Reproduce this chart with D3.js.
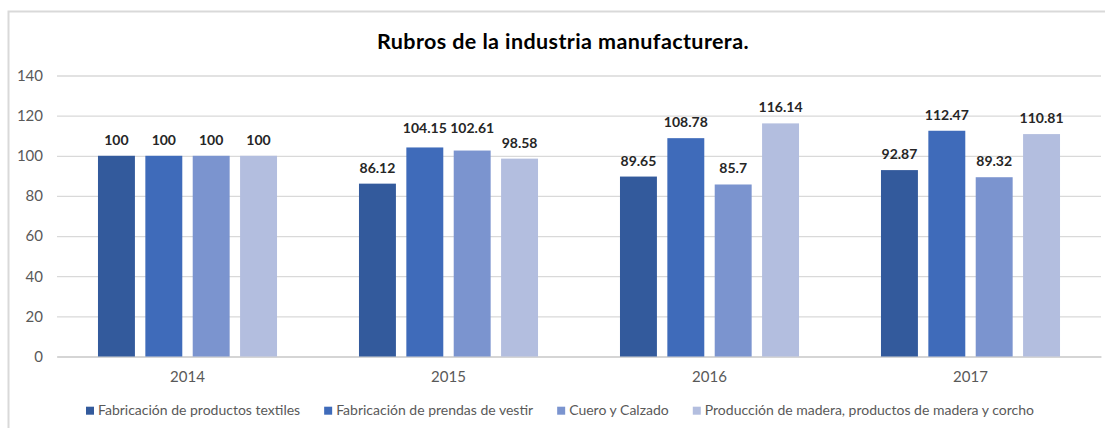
<!DOCTYPE html>
<html>
<head>
<meta charset="utf-8">
<script src="https://cdn.jsdelivr.net/npm/d3@7"></script>
<style>
  html, body { margin: 0; padding: 0; background: #ffffff; }
  svg { display: block; }
  text { font-family: Lato, "Open Sans", "Liberation Sans", sans-serif; }
</style>
</head>
<body>
<svg id="chart" width="1105" height="428"></svg>
<script>
// Índices por rubro (2014 = 100)
const years = ["2014", "2015", "2016", "2017"];
const seriesNames = [
  "Fabricación de productos textiles",
  "Fabricación de prendas de vestir",
  "Cuero y Calzado",
  "Producción de madera, productos de madera y corcho"
];
const textiles = [100, 86.12, 89.65, 92.87];
const prendas = [100, 104.15, 108.78, 112.47];
const cuero = [100, 102.61, 85.7, 89.32];
const madera = [100, 98.58, 116.14, 110.81];
const yTicks = [0, 20, 40, 60, 80, 100, 120, 140];
const titleText = "Rubros de la industria manufacturera.";

const seriesValues = [textiles, prendas, cuero, madera];
const colors = ["#335A9C", "#3F6BBA", "#7B94CF", "#B3BEDF"];

const svg = d3.select("#chart");

// chart frame
svg.append("rect")
  .attr("x", 8.5).attr("y", 11.5)
  .attr("width", 1110).attr("height", 430)
  .attr("fill", "#ffffff")
  .attr("stroke", "#d9d9d9").attr("stroke-width", 2);

const plot = { left: 57, right: 1101, top: 75.5, bottom: 356.5 };

const x0 = d3.scaleBand().domain(years).range([plot.left, plot.right]).padding(0);
const bw = x0.bandwidth();
const x1 = d3.scaleBand().domain(d3.range(seriesNames.length))
  .range([bw * 0.157, bw * 0.843]).paddingInner(0.22).paddingOuter(0);
const y = d3.scaleLinear().domain([0, 140]).range([plot.bottom, plot.top]);

// gridlines + y labels
const yAxis = d3.axisLeft(y).tickValues(yTicks)
  .tickSize(-(plot.right - plot.left)).tickPadding(14);
const gy = svg.append("g").attr("transform", `translate(${plot.left},0)`).call(yAxis);
gy.select(".domain").remove();
gy.selectAll(".tick line").attr("stroke", "#d9d9d9").attr("stroke-width", 1.3);
gy.selectAll(".tick text")
  .attr("fill", "#595959").attr("font-size", 15);

// x labels
const xAxis = d3.axisBottom(x0).tickSize(0).tickPadding(15);
const gx = svg.append("g").attr("transform", `translate(0,${plot.bottom})`).call(xAxis);
gx.select(".domain").attr("stroke", "#d0d0d0").attr("stroke-width", 1.5);
gx.selectAll(".tick text").attr("fill", "#595959").attr("font-size", 15);

// title
svg.append("text")
  .attr("x", 563).attr("y", 49)
  .attr("text-anchor", "middle")
  .attr("font-size", 21.5).attr("font-weight", "bold").attr("fill", "#000000")
  .attr("letter-spacing", 0.4)
  .text(titleText);

// bars
const flat = [];
years.forEach((yr, i) => {
  seriesValues.forEach((vals, s) => {
    flat.push({ year: yr, s: s, v: vals[i] });
  });
});

svg.append("g").selectAll("rect")
  .data(flat).join("rect")
  .attr("x", d => x0(d.year) + x1(d.s))
  .attr("y", d => y(d.v))
  .attr("width", x1.bandwidth())
  .attr("height", d => y(0) - y(d.v))
  .attr("fill", d => colors[d.s]);

// value labels
const labels = svg.append("g").selectAll("text")
  .data(flat).join("text")
  .attr("x", d => x0(d.year) + x1(d.s) + x1.bandwidth() / 2)
  .attr("text-anchor", "middle")
  .attr("font-size", 14).attr("font-weight", "bold").attr("fill", "#262626")
  .text(d => String(d.v));

// place labels above bars, lifting neighbours that would collide
flat.forEach(d => { d.ly = y(d.v) - 11; });
labels.each(function (d) { d.w = this.getComputedTextLength(); d.cx = x0(d.year) + x1(d.s) + x1.bandwidth() / 2; });
years.forEach(yr => {
  const g = flat.filter(d => d.year === yr);
  for (let i = 0; i < g.length - 1; i++) {
    const a = g[i], b = g[i + 1];
    const hGap = (b.cx - b.w / 2) - (a.cx + a.w / 2);
    if (hGap < 6 && Math.abs(a.ly - b.ly) < 12) {
      const top = Math.min(a.ly, b.ly) - 3.5;
      a.ly = top; b.ly = top;
    }
  }
});
labels.attr("y", d => d.ly);

// legend
const legend = svg.append("g").attr("transform", "translate(86,415)");
const items = legend.selectAll("g").data(seriesNames).join("g");
items.append("rect").attr("width", 8).attr("height", 8).attr("y", -8.3)
  .attr("fill", (d, i) => colors[i]);
items.append("text").attr("x", 12).attr("font-size", 14).attr("fill", "#595959")
  .text(d => d);
let cursor = 0;
items.each(function () {
  const w = this.getBBox().width;
  d3.select(this).attr("transform", `translate(${cursor},0)`);
  cursor += w + 24;
});
</script>
</body>
</html>
